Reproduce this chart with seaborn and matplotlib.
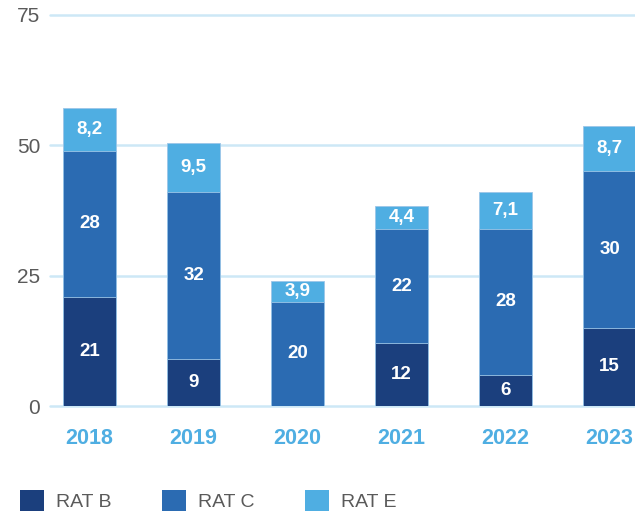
import numpy as np
import pandas as pd
import matplotlib
matplotlib.use("Agg")
import matplotlib.pyplot as plt
import seaborn as sns
from matplotlib.patches import Patch

years = ["2018", "2019", "2020", "2021", "2022", "2023"]
rat_b = [21, 9, 0, 12, 6, 15]
rat_c = [28, 32, 20, 22, 28, 30]
rat_e = [8.2, 9.5, 3.9, 4.4, 7.1, 8.7]
series_names = ["RAT B", "RAT C", "RAT E"]
y_ticks = [0, 25, 50, 75]

col_b = "#1b3f7d"
col_c = "#2b6bb2"
col_e = "#4faee2"
grid_col = "#cde8f6"
tick_gray = "#5a5a5a"

sns.set_theme(style="white")
plt.rcParams["font.family"] = ["Liberation Sans", "DejaVu Sans"]

df = pd.DataFrame({"year": years, "b": rat_b, "c": rat_c, "e": rat_e})
df["bc"] = df["b"] + df["c"]
df["total"] = df["bc"] + df["e"]

fig = plt.figure(figsize=(6.35, 5.19), dpi=100)
ax = fig.add_axes([50 / 635, 113 / 519, 1 - 50 / 635, (406 - 15) / 519])

for ycol, col in [("total", col_e), ("bc", col_c), ("b", col_b)]:
    sns.barplot(data=df, x="year", y=ycol, order=years, color=col, width=0.51,
                edgecolor="#9cc6e8", linewidth=0.6, saturation=1, ax=ax, zorder=3)

def fmt(v):
    if float(v).is_integer():
        return str(int(v))
    return f"{v:.1f}".replace(".", ",")

for i in range(len(years)):
    segs = [(0, rat_b[i]), (rat_b[i], rat_c[i]), (rat_b[i] + rat_c[i], rat_e[i])]
    for base, v in segs:
        if v > 0:
            ax.text(i, base + v / 2, fmt(v), ha="center", va="center", color="white",
                    fontsize=13.5, fontweight="bold", zorder=5)

ax.set_ylim(0, 75)
ax.set_xlim(-0.38, 5.245)
ax.set_yticks(y_ticks)
ax.set_yticklabels([str(t) for t in y_ticks])
for t in y_ticks:
    ax.axhline(t, color=grid_col, linewidth=1.8, zorder=1, clip_on=False)
for s in ax.spines.values():
    s.set_visible(False)
ax.set_xlabel("")
ax.set_ylabel("")
ax.tick_params(axis="y", length=0, pad=7, labelsize=15, labelcolor=tick_gray)
ax.tick_params(axis="x", length=0, pad=16, labelsize=15.5)
for lab in ax.get_xticklabels():
    lab.set_color(col_e)
    lab.set_fontweight("bold")

handles = [Patch(facecolor=c, edgecolor="none") for c in [col_b, col_c, col_e]]
leg = fig.legend(handles, series_names, loc="lower left", bbox_to_anchor=(20 / 635, 8 / 519),
                 ncol=3, frameon=False, fontsize=14, handlelength=1.25, handleheight=1.25,
                 handletextpad=0.6, columnspacing=2.6, borderpad=0, borderaxespad=0)
for t in leg.get_texts():
    t.set_color(tick_gray)

fig.savefig("out.png", dpi=100)
